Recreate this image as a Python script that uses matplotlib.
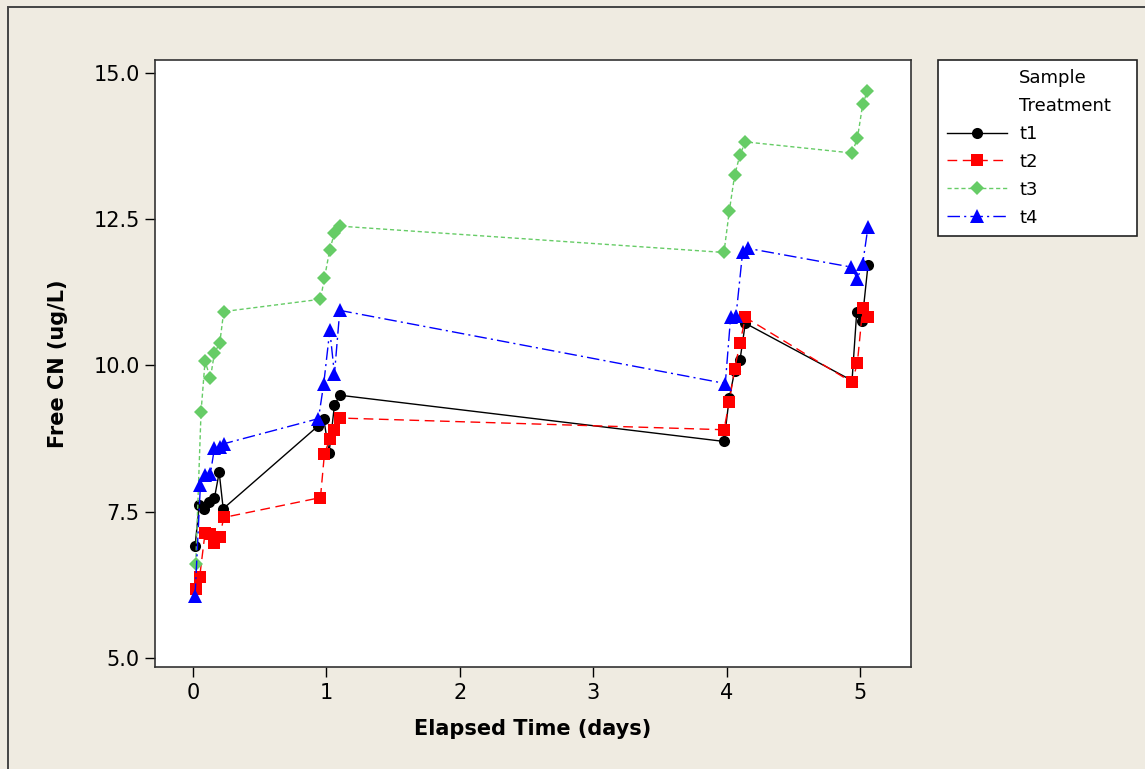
import matplotlib.pyplot as plt
from matplotlib.lines import Line2D
from matplotlib.patches import Rectangle

# ------------------------------------------------------------
# Free cyanide readings per sample treatment
# ------------------------------------------------------------
t1_days = [0.015, 0.047, 0.084, 0.12, 0.16, 0.196, 0.226,
           0.94, 0.98, 1.02, 1.06, 1.10,
           3.98, 4.02, 4.06, 4.10, 4.14,
           4.94, 4.975, 5.015, 5.06]
t1_cn = [6.91, 7.62, 7.55, 7.66, 7.73, 8.17, 7.55,
         8.97, 9.08, 8.51, 9.32, 9.49,
         8.70, 9.45, 9.90, 10.09, 10.72,
         9.74, 10.91, 10.75, 11.72]

t2_days = [0.02, 0.05, 0.09, 0.13, 0.16, 0.20, 0.23,
           0.955, 0.985, 1.025, 1.06, 1.10,
           3.98, 4.02, 4.06, 4.10, 4.14,
           4.94, 4.98, 5.02, 5.06]
t2_cn = [6.18, 6.39, 7.14, 7.12, 6.97, 7.06, 7.40,
         7.74, 8.49, 8.74, 8.89, 9.10,
         8.90, 9.38, 9.94, 10.38, 10.82,
         9.71, 10.04, 10.98, 10.83]

t3_days = [0.02, 0.06, 0.09, 0.13, 0.16, 0.20, 0.23,
           0.955, 0.985, 1.025, 1.06, 1.10,
           3.98, 4.02, 4.06, 4.10, 4.14,
           4.94, 4.98, 5.02, 5.055]
t3_cn = [6.60, 9.21, 10.07, 9.78, 10.21, 10.38, 10.92,
         11.13, 11.49, 11.98, 12.26, 12.38,
         11.93, 12.64, 13.25, 13.60, 13.82,
         13.63, 13.88, 14.46, 14.69]

t4_days = [0.015, 0.055, 0.09, 0.13, 0.16, 0.20, 0.23,
           0.94, 0.98, 1.025, 1.06, 1.10,
           3.99, 4.03, 4.07, 4.12, 4.16,
           4.935, 4.98, 5.02, 5.06]
t4_cn = [6.06, 7.95, 8.12, 8.15, 8.58, 8.60, 8.66,
         9.09, 9.69, 10.60, 9.85, 10.94,
         9.69, 10.83, 10.84, 11.94, 12.00,
         11.68, 11.48, 11.74, 12.37]

x_ticks = [0, 1, 2, 3, 4, 5]
y_ticks = [5.0, 7.5, 10.0, 12.5, 15.0]

bg = '#EFEBE1'

fig = plt.figure(figsize=(11.45, 7.69), dpi=100, facecolor=bg)
ax = fig.add_axes([0.1354, 0.1323, 0.66, 0.7897])
ax.set_facecolor('white')

series = [
    ("t1", t1_days, t1_cn, 'black', '-', 'o', 8),
    ("t2", t2_days, t2_cn, '#FF0000', (0, (7, 4)), 's', 8.5),
    ("t3", t3_days, t3_cn, '#66CC66', (0, (3, 2)), 'D', 7.5),
    ("t4", t4_days, t4_cn, '#0000FF', (0, (9, 3, 1.5, 3)), '^', 9.5),
]

handles = []
for name, xs, ys, col, ls, mk, ms in series:
    ax.plot(xs, ys, color=col, linestyle=ls, linewidth=1.0,
            marker=mk, markersize=ms, markeredgewidth=0)
    handles.append(Line2D([], [], color=col, linestyle=ls, linewidth=1.0,
                          marker=mk, markersize=ms, markeredgewidth=0))

ax.set_xlim(-0.285, 5.38)
ax.set_ylim(4.84, 15.22)
ax.set_xticks(x_ticks)
ax.set_yticks(y_ticks)
ax.set_yticklabels([f"{v:.1f}" for v in y_ticks])
ax.tick_params(direction='out', length=7, width=1, labelsize=15, pad=4)
for s in ax.spines.values():
    s.set_linewidth(1.2)
    s.set_color('#333333')

ax.set_xlabel("Elapsed Time (days)", fontsize=15, fontweight='bold', labelpad=12)
ax.set_ylabel("Free CN (ug/L)", fontsize=15, fontweight='bold', labelpad=18)

# legend with a two-line heading aligned to the labels
blank = Line2D([], [], linestyle='none', marker=None)
leg = fig.legend([blank, blank] + handles,
                 ["Sample", "Treatment", "t1", "t2", "t3", "t4"],
                 loc='upper left', bbox_to_anchor=(0.8192, 0.922, 0.174, 0.0),
                 mode='expand', fontsize=13, frameon=True, fancybox=False,
                 framealpha=1.0, facecolor='white',
                 handlelength=3.35, handletextpad=0.65, labelspacing=0.55,
                 borderpad=0.5, borderaxespad=0)
leg.get_frame().set_edgecolor('#222222')
leg.get_frame().set_linewidth(1.2)

# outer frame of the chart area
fig.patches.append(Rectangle((0.007, -0.1), 1.2, 1.0909, transform=fig.transFigure,
                             fill=False, edgecolor='#444444', linewidth=1.4))

fig.savefig("out.png", dpi=100, facecolor=bg)
